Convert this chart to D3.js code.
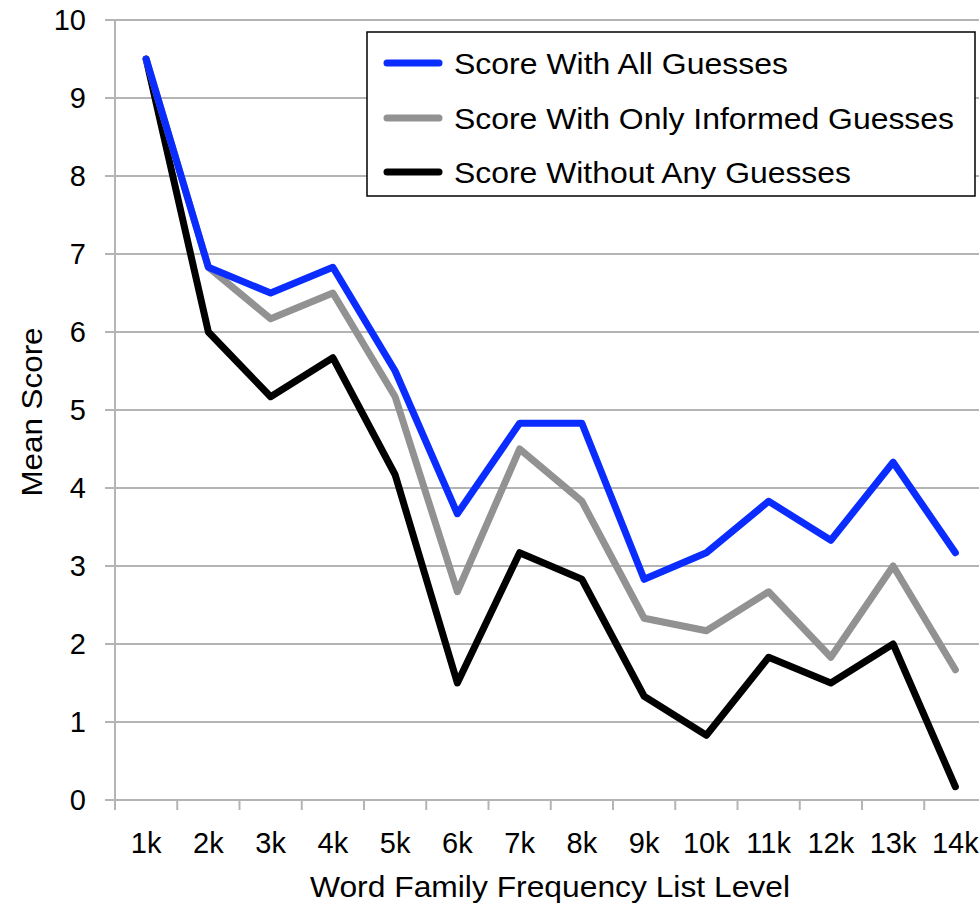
<!DOCTYPE html>
<html>
<head>
<meta charset="utf-8">
<script src="https://cdn.jsdelivr.net/npm/d3@7/dist/d3.min.js"></script>
<style>
  html, body { margin: 0; padding: 0; background: #fff; }
  svg { display: block; font-family: "Liberation Sans", Arial, Helvetica, sans-serif; }
</style>
</head>
<body>
<svg id="chart" width="979" height="906"></svg>
<script>
const categories = ["1k","2k","3k","4k","5k","6k","7k","8k","9k","10k","11k","12k","13k","14k"];
const allGuesses      = [9.5, 6.83, 6.5, 6.83, 5.5, 3.67, 4.83, 4.83, 2.83, 3.17, 3.83, 3.33, 4.33, 3.17];
const informedGuesses = [9.5, 6.83, 6.17, 6.5, 5.17, 2.67, 4.5, 3.83, 2.33, 2.17, 2.67, 1.83, 3.0, 1.67];
const noGuesses       = [9.5, 6.0, 5.17, 5.67, 4.17, 1.5, 3.17, 2.83, 1.33, 0.83, 1.83, 1.5, 2.0, 0.17];
const yTicks = [0,1,2,3,4,5,6,7,8,9,10];
const seriesNames = ["Score With All Guesses", "Score With Only Informed Guesses", "Score Without Any Guesses"];
const seriesColors = ["#0a2cff", "#929292", "#000000"];

const svg = d3.select("#chart");
const W = 979;
const plotLeft = 115, plotTop = 20, plotBottom = 800, step = 62.25;

const x = d3.scaleBand().domain(categories).range([plotLeft, plotLeft + step * categories.length]).padding(0);
const y = d3.scaleLinear().domain([0, 10]).range([plotBottom, plotTop]);

const gridColor = "#b4b4b4";

// gridlines
svg.append("g").selectAll("line").data(yTicks.filter(d => d > 0)).join("line")
  .attr("x1", plotLeft - 10).attr("x2", W)
  .attr("y1", d => y(d)).attr("y2", d => y(d))
  .attr("stroke", gridColor).attr("stroke-width", 2);

// y axis line
svg.append("line").attr("x1", plotLeft).attr("x2", plotLeft).attr("y1", y(10)).attr("y2", plotBottom + 1)
  .attr("stroke", gridColor).attr("stroke-width", 2);
// x axis line
svg.append("line").attr("x1", plotLeft - 10).attr("x2", W).attr("y1", plotBottom).attr("y2", plotBottom)
  .attr("stroke", gridColor).attr("stroke-width", 2);
// x ticks at band edges
svg.append("g").selectAll("line").data(categories).join("line")
  .attr("x1", d => x(d)).attr("x2", d => x(d))
  .attr("y1", plotBottom).attr("y2", plotBottom + 10)
  .attr("stroke", gridColor).attr("stroke-width", 2);

// y tick labels
svg.append("g").selectAll("text").data(yTicks).join("text")
  .attr("x", 86).attr("y", d => y(d))
  .attr("text-anchor", "end").attr("dominant-baseline", "central")
  .attr("font-size", 29).attr("fill", "#000")
  .text(d => d);

// x tick labels
svg.append("g").selectAll("text").data(categories).join("text")
  .attr("x", d => x(d) + x.bandwidth() / 2).attr("y", 843)
  .attr("text-anchor", "middle").attr("dominant-baseline", "central")
  .attr("font-size", 29).attr("fill", "#000")
  .text(d => d);

// axis titles
svg.append("text").attr("x", 550).attr("y", 886)
  .attr("text-anchor", "middle").attr("dominant-baseline", "central")
  .attr("font-size", 30)
  .attr("textLength", 480).attr("lengthAdjust", "spacingAndGlyphs")
  .text("Word Family Frequency List Level");
svg.append("text").attr("transform", "translate(31,412) rotate(-90)")
  .attr("text-anchor", "middle").attr("dominant-baseline", "central")
  .attr("font-size", 30)
  .attr("textLength", 169).attr("lengthAdjust", "spacingAndGlyphs")
  .text("Mean Score");

// lines
const line = d3.line()
  .x((d, i) => x(categories[i]) + x.bandwidth() / 2)
  .y(d => y(d));
const seriesData = [allGuesses, informedGuesses, noGuesses];
[2, 1, 0].forEach(k => {
  svg.append("path").datum(seriesData[k])
    .attr("d", line)
    .attr("fill", "none")
    .attr("stroke", seriesColors[k])
    .attr("stroke-width", 7)
    .attr("stroke-linejoin", "round")
    .attr("stroke-linecap", "round");
});

// legend
const lg = svg.append("g");
lg.append("rect").attr("x", 367).attr("y", 32).attr("width", 608).attr("height", 164)
  .attr("fill", "#fff").attr("stroke", "#000").attr("stroke-width", 1.5);
const legendY = [63, 118, 172];
const legendTextWidths = [334, 500, 397];
seriesNames.forEach((name, i) => {
  lg.append("line").attr("x1", 387).attr("x2", 439)
    .attr("y1", legendY[i]).attr("y2", legendY[i])
    .attr("stroke", seriesColors[i]).attr("stroke-width", 7).attr("stroke-linecap", "round");
  lg.append("text").attr("x", 454).attr("y", legendY[i])
    .attr("dominant-baseline", "central").attr("font-size", 30)
    .attr("textLength", legendTextWidths[i]).attr("lengthAdjust", "spacingAndGlyphs")
    .text(name);
});
</script>
</body>
</html>
